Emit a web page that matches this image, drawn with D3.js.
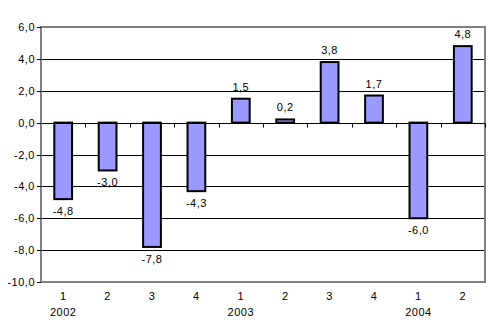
<!DOCTYPE html>
<html>
<head>
<meta charset="utf-8">
<script src="https://cdn.jsdelivr.net/npm/d3@7"></script>
<style>
  html, body { margin: 0; padding: 0; background: #fff; }
  svg text { font-family: Arial, "Liberation Sans", sans-serif; font-size: 11px; letter-spacing: 0.5px; fill: #000; }
</style>
</head>
<body>
<svg id="chart" width="500" height="336"></svg>
<script>
// Quarterly change, per cent
const quarters = ["1", "2", "3", "4", "1", "2", "3", "4", "1", "2"];
const years = ["2002", "", "", "", "2003", "", "", "", "2004", ""];
const values = [-4.8, -3.0, -7.8, -4.3, 1.5, 0.2, 3.8, 1.7, -6.0, 4.8];
const yTicks = [6, 4, 2, 0, -2, -4, -6, -8, -10];

const svg = d3.select("#chart");
const plotL = 41, plotR = 485, plotT = 27, plotB = 282;

const fmt = v => d3.format(".1f")(v).replace(".", ",").replace("−", "-");

const x = d3.scaleBand().domain(d3.range(values.length)).range([plotL, plotR]).paddingInner(0).paddingOuter(0);
const y = d3.scaleLinear().domain([-10, 6]).range([plotB, plotT]);

// Horizontal gridlines
svg.append("g").selectAll("line")
  .data(yTicks.filter(t => t !== 6 && t !== -10 && t !== 0))
  .join("line")
  .attr("x1", plotL).attr("x2", plotR)
  .attr("y1", d => Math.round(y(d)) + 0.5).attr("y2", d => Math.round(y(d)) + 0.5)
  .attr("stroke", "#000").attr("stroke-width", 1);

// Plot frame (top, right, bottom)
svg.append("path")
  .attr("d", `M${plotL},${plotT} H${plotR} V${plotB} H${plotL}`)
  .attr("fill", "none").attr("stroke", "#808080").attr("stroke-width", 2);

// Bars
const bw = x.bandwidth() * 0.40;
svg.append("g").selectAll("rect")
  .data(values)
  .join("rect")
  .attr("x", (d, i) => x(i) + (x.bandwidth() - bw) / 2)
  .attr("width", bw)
  .attr("y", d => y(Math.max(0, d)))
  .attr("height", d => Math.abs(y(d) - y(0)))
  .attr("fill", "#9999FF")
  .attr("stroke", "#000").attr("stroke-width", 2);

// Category axis along zero
const zeroY = Math.round(y(0)) + 0.5;
svg.append("line")
  .attr("x1", plotL).attr("x2", plotR).attr("y1", zeroY).attr("y2", zeroY)
  .attr("stroke", "#000").attr("stroke-width", 1);
svg.append("g").selectAll("line")
  .data(d3.range(1, values.length + 1))
  .join("line")
  .attr("x1", i => Math.round(x.step() * i + plotL) + 0.5)
  .attr("x2", i => Math.round(x.step() * i + plotL) + 0.5)
  .attr("y1", zeroY).attr("y2", zeroY + 4)
  .attr("stroke", "#000");

// Value axis
svg.append("line")
  .attr("x1", plotL).attr("x2", plotL).attr("y1", plotT - 1).attr("y2", plotB + 1)
  .attr("stroke", "#808080").attr("stroke-width", 2);
const yAxis = svg.append("g");
yAxis.selectAll("line")
  .data(yTicks)
  .join("line")
  .attr("x1", plotL - 4).attr("x2", plotL)
  .attr("y1", d => Math.round(y(d)) + 0.5).attr("y2", d => Math.round(y(d)) + 0.5)
  .attr("stroke", "#000");
yAxis.selectAll("text")
  .data(yTicks)
  .join("text")
  .attr("x", plotL - 6)
  .attr("y", d => y(d) + 4)
  .attr("text-anchor", "end")
  .text(fmt);

// Category labels
svg.append("g").selectAll("text")
  .data(quarters)
  .join("text")
  .attr("x", (d, i) => x(i) + x.bandwidth() / 2)
  .attr("y", 300)
  .attr("text-anchor", "middle")
  .text(d => d);
svg.append("g").selectAll("text")
  .data(years)
  .join("text")
  .attr("x", (d, i) => x(i) + x.bandwidth() / 2)
  .attr("y", 316)
  .attr("text-anchor", "middle")
  .text(d => d);

// Data labels
svg.append("g").selectAll("text")
  .data(values)
  .join("text")
  .attr("x", (d, i) => x(i) + x.bandwidth() / 2)
  .attr("y", d => d >= 0 ? y(d) - 8 : y(d) + 16)
  .attr("text-anchor", "middle")
  .text(fmt);
</script>
</body>
</html>
